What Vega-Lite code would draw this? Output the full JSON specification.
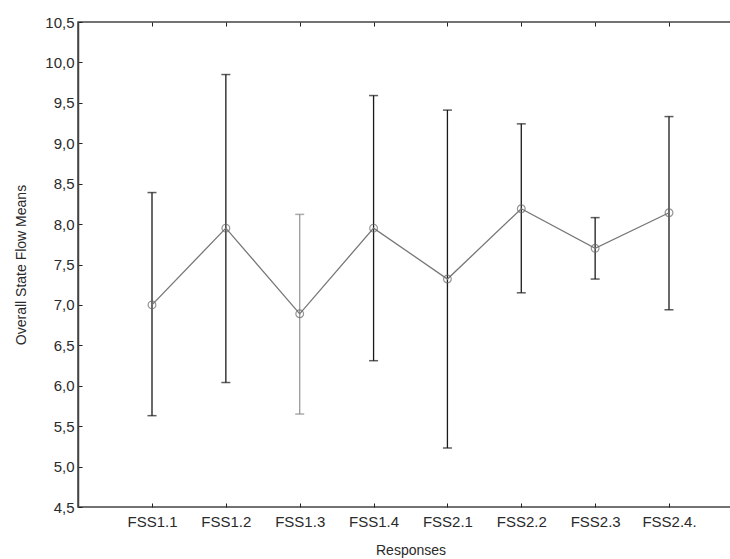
{
  "$schema": "https://vega.github.io/schema/vega-lite/v6.json",
  "autosize": "none",
  "padding": {"left": 78, "top": 22, "right": 0, "bottom": 52},
  "width": 653,
  "height": 485,
  "background": "white",
  "config": {
    "view": {"stroke": "#444", "strokeWidth": 1.5},
    "axis": {
      "grid": false,
      "labelFont": "Liberation Sans",
      "titleFont": "Liberation Sans",
      "labelFontSize": 15,
      "titleFontSize": 14,
      "labelColor": "#2a2a2a",
      "titleColor": "#2a2a2a",
      "titleFontWeight": "normal",
      "domainColor": "#444",
      "domainWidth": 1.5,
      "tickColor": "#222",
      "tickWidth": 1
    }
  },
  "data": {
    "values": [
      {"resp": "FSS1.1", "mean": 7.0, "lo": 5.63, "hi": 8.39},
      {"resp": "FSS1.2", "mean": 7.95, "lo": 6.04, "hi": 9.85},
      {"resp": "FSS1.3", "mean": 6.89, "lo": 5.65, "hi": 8.12},
      {"resp": "FSS1.4", "mean": 7.95, "lo": 6.31, "hi": 9.59},
      {"resp": "FSS2.1", "mean": 7.32, "lo": 5.23, "hi": 9.41},
      {"resp": "FSS2.2", "mean": 8.19, "lo": 7.15, "hi": 9.24},
      {"resp": "FSS2.3", "mean": 7.7, "lo": 7.32, "hi": 8.08},
      {"resp": "FSS2.4.", "mean": 8.14, "lo": 6.94, "hi": 9.33}
    ]
  },
  "resolve": {"axis": {"x": "independent"}},
  "layer": [
    {
      "mark": {"type": "rule", "strokeWidth": 1.3},
      "encoding": {
        "x": {
          "field": "resp", "type": "nominal", "sort": null,
          "scale": {"type": "point", "range": [74, 591], "padding": 0},
          "axis": {"title": "Responses", "labelAngle": 0, "domain": false, "tickSize": -4, "labelPadding": 11, "titlePadding": 14}
        },
        "y": {
          "field": "lo", "type": "quantitative",
          "scale": {"domain": [4.5, 10.5], "nice": false, "zero": false},
          "axis": {
            "title": "Overall State Flow Means",
            "values": [4.5, 5, 5.5, 6, 6.5, 7, 7.5, 8, 8.5, 9, 9.5, 10, 10.5],
            "labelExpr": "replace(format(datum.value, '.1f'), '.', ',')",
            "tickSize": -4,
            "labelPadding": 8,
            "titlePadding": 16
          }
        },
        "y2": {"field": "hi"},
        "color": {"condition": {"test": "datum.resp === 'FSS1.3'", "value": "#999"}, "value": "#1a1a1a"}
      }
    },
    {
      "mark": {"type": "tick", "size": 9, "thickness": 1.5},
      "encoding": {
        "x": {
          "field": "resp", "type": "nominal", "sort": null,
          "axis": {"orient": "top", "labels": false, "title": null, "domain": false, "tickSize": -4}
        },
        "y": {"field": "lo", "type": "quantitative"},
        "color": {"condition": {"test": "datum.resp === 'FSS1.3'", "value": "#888"}, "value": "#1a1a1a"}
      }
    },
    {
      "mark": {"type": "tick", "size": 9, "thickness": 1.5},
      "encoding": {
        "x": {"field": "resp", "type": "nominal", "sort": null, "axis": null},
        "y": {"field": "hi", "type": "quantitative"},
        "color": {"condition": {"test": "datum.resp === 'FSS1.3'", "value": "#888"}, "value": "#1a1a1a"}
      }
    },
    {
      "mark": {"type": "line", "color": "#777", "strokeWidth": 1.3},
      "encoding": {
        "x": {"field": "resp", "type": "nominal", "sort": null, "axis": null},
        "y": {"field": "mean", "type": "quantitative"}
      }
    },
    {
      "mark": {"type": "point", "shape": "circle", "size": 60, "filled": false, "stroke": "#666", "strokeWidth": 1.2, "fill": null},
      "encoding": {
        "x": {"field": "resp", "type": "nominal", "sort": null, "axis": null},
        "y": {"field": "mean", "type": "quantitative"}
      }
    }
  ]
}
